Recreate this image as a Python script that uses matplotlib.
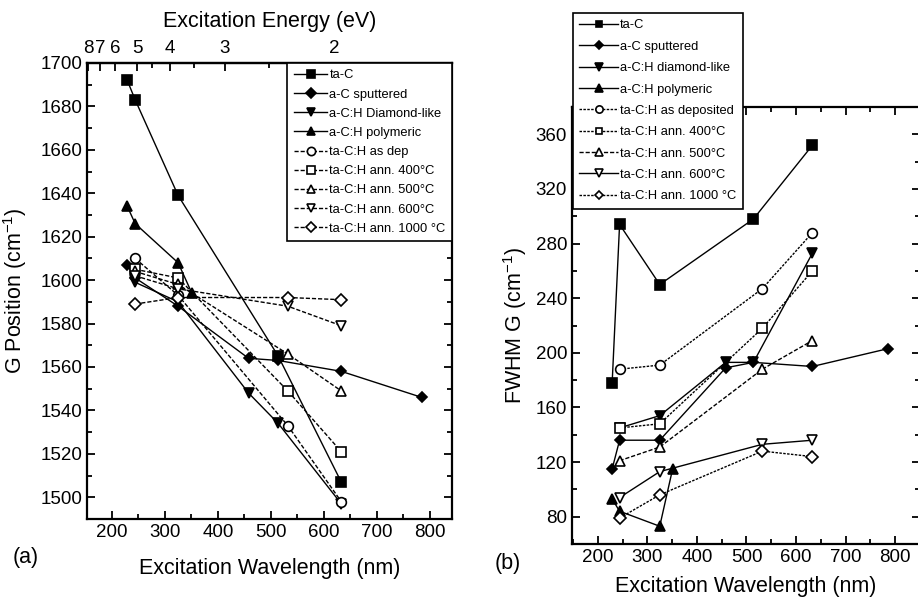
import numpy as np
import matplotlib.pyplot as plt
from matplotlib.ticker import MultipleLocator, FixedLocator

plt.rcParams['font.family'] = ['Liberation Sans', 'DejaVu Sans']
plt.rcParams['mathtext.fontset'] = 'custom'
plt.rcParams['mathtext.rm'] = 'Liberation Sans'

# (a) G position vs excitation wavelength
lam_tac_a = [229, 244, 325, 514, 633]
g_tac = [1692, 1683, 1639, 1565, 1507]
lam_ac_a = [229, 244, 325, 458, 514, 633, 785]
g_ac = [1607, 1601, 1588, 1564, 1563, 1558, 1546]
lam_dlc_a = [244, 325, 458, 514, 633]
g_dlc = [1599, 1590, 1548, 1534, 1497]
lam_poly_a = [229, 244, 325, 351]
g_poly = [1634, 1626, 1608, 1594]
lam_tach = [244, 325, 532, 633]
g_asdep = [1610, 1593, 1533, 1498]
g_400 = [1605, 1601, 1549, 1521]
g_500 = [1604, 1598, 1566, 1549]
g_600 = [1602, 1596, 1588, 1579]
g_1000 = [1589, 1592, 1592, 1591]

# (b) FWHM G vs excitation wavelength
lam_tac_b = [229, 244, 325, 514, 633]
w_tac = [178, 294, 250, 298, 352]
lam_ac_b = [229, 244, 325, 458, 514, 633, 785]
w_ac = [115, 136, 136, 189, 193, 190, 203]
lam_dlc_b = [244, 325, 458, 514, 633]
w_dlc = [145, 154, 193, 193, 273]
lam_poly_b = [229, 244, 325, 351]
w_poly = [93, 84, 73, 115]
w_asdep = [188, 191, 247, 288]
w_400 = [145, 148, 218, 260]
w_500 = [121, 131, 188, 209]
w_600 = [94, 113, 133, 136]
w_1000 = [79, 96, 128, 124]

labels_a = ['ta-C', 'a-C sputtered', 'a-C:H Diamond-like', 'a-C:H polymeric',
            'ta-C:H as dep', 'ta-C:H ann. 400\u00b0C', 'ta-C:H ann. 500\u00b0C',
            'ta-C:H ann. 600\u00b0C', 'ta-C:H ann. 1000 \u00b0C']
labels_b = ['ta-C', 'a-C sputtered', 'a-C:H diamond-like', 'a-C:H polymeric',
            'ta-C:H as deposited', 'ta-C:H ann. 400\u00b0C', 'ta-C:H ann. 500\u00b0C',
            'ta-C:H ann. 600\u00b0C', 'ta-C:H ann. 1000 \u00b0C']

markers = ['s', 'D', 'v', '^', 'o', 's', '^', 'v', 'D']
filled = [True, True, True, True, False, False, False, False, False]
sizes = [6.5, 5.5, 7, 7, 7, 6.5, 7, 7, 6]
dash = (0, (3, 1.4))
dot = (0, (1.8, 1.0))
ls_a = ['-', '-', '-', '-', dash, dash, dash, dash, dash]
ls_b = ['-', '-', '-', '-', dot, dot, dash, '-', dot]

series_a = [(lam_tac_a, g_tac), (lam_ac_a, g_ac), (lam_dlc_a, g_dlc), (lam_poly_a, g_poly),
            (lam_tach, g_asdep), (lam_tach, g_400), (lam_tach, g_500), (lam_tach, g_600),
            (lam_tach, g_1000)]
series_b = [(lam_tac_b, w_tac), (lam_ac_b, w_ac), (lam_dlc_b, w_dlc), (lam_poly_b, w_poly),
            (lam_tach, w_asdep), (lam_tach, w_400), (lam_tach, w_500), (lam_tach, w_600),
            (lam_tach, w_1000)]

fig = plt.figure(figsize=(9.18, 5.97), dpi=100)
ax1 = fig.add_axes([87/918, 1-519/597, 365/918, 456/597])
ax2 = fig.add_axes([572/918, 1-544/597, 348/918, 437/597])


def draw(ax, series, styles, labels):
    for (x, y), ls, m, f, ms, lab in zip(series, styles, markers, filled, sizes, labels):
        ax.plot(x, y, linestyle=ls, color='black', lw=1.0, marker=m, ms=ms,
                mfc='black' if f else 'white', mec='black', mew=1.2, label=lab)


draw(ax1, series_a, ls_a, labels_a)
draw(ax2, series_b, ls_b, labels_b)

for ax in (ax1, ax2):
    for s in ax.spines.values():
        s.set_linewidth(1.6)
    ax.xaxis.set_major_locator(MultipleLocator(100))
    ax.xaxis.set_minor_locator(MultipleLocator(50))
    ax.tick_params(which='both', direction='in', labelsize=13.5, width=1.3)
    ax.tick_params(which='major', length=6)
    ax.tick_params(which='minor', length=3.5)

ax1.set_xlim(153, 842)
ax1.set_ylim(1490, 1700)
ax1.yaxis.set_major_locator(MultipleLocator(20))
ax1.yaxis.set_minor_locator(MultipleLocator(10))
ax1.tick_params(which='both', top=False, right=True)
ax1.set_xlabel('Excitation Wavelength (nm)', fontsize=15.5, labelpad=12)
ax1.set_ylabel('G Position (cm$^{\\mathregular{-1}}$)', fontsize=15.5, labelpad=8)


def nm2ev(x):
    x = np.asarray(x, dtype=float)
    with np.errstate(divide='ignore', invalid='ignore'):
        return 1239.84 / x


sec = ax1.secondary_xaxis('top', functions=(nm2ev, nm2ev))
sec.xaxis.set_major_locator(FixedLocator([2, 3, 4, 5, 6, 7, 8]))
sec.xaxis.set_minor_locator(FixedLocator([1.5, 2.5, 3.5, 4.5]))
sec.tick_params(which='both', direction='in', labelsize=13.5, width=1.3, pad=4)
sec.tick_params(which='major', length=6)
sec.tick_params(which='minor', length=3.5)
sec.spines['top'].set_linewidth(1.6)
sec.set_xlabel('Excitation Energy (eV)', fontsize=15.5, labelpad=10)

ax1.legend(loc='upper right', bbox_to_anchor=(1, 1), borderaxespad=0,
           fontsize=9.3, frameon=True, fancybox=False, edgecolor='black',
           framealpha=1, handlelength=2.6, handletextpad=0.15, labelspacing=0.55,
           borderpad=0.5, markerscale=0.85).get_frame().set_linewidth(1.2)

ax2.set_xlim(148, 850)
ax2.set_ylim(60, 380)
ax2.yaxis.set_major_locator(FixedLocator(np.arange(80, 361, 40)))
ax2.yaxis.set_minor_locator(MultipleLocator(20))
ax2.tick_params(which='both', top=True, right=True)
ax2.set_xlabel('Excitation Wavelength (nm)', fontsize=15.5, labelpad=7)
ax2.set_ylabel('FWHM G (cm$^{\\mathregular{-1}}$)', fontsize=15.5, labelpad=5)

leg2 = ax2.legend(loc='upper left', bbox_to_anchor=(573/918, 1-13/597),
                  bbox_transform=fig.transFigure, borderaxespad=0,
                  fontsize=9.3, frameon=True, fancybox=False, edgecolor='black',
                  framealpha=1, handlelength=3.0, handletextpad=0.15, labelspacing=0.72,
                  borderpad=0.5, markerscale=0.75)
leg2.get_frame().set_linewidth(1.2)

fig.text(13/918, 1-558/597, '(a)', fontsize=15.5, ha='left', va='center')
fig.text(495/918, 1-563/597, '(b)', fontsize=15.5, ha='left', va='center')

fig.savefig('out.png', dpi=100)
